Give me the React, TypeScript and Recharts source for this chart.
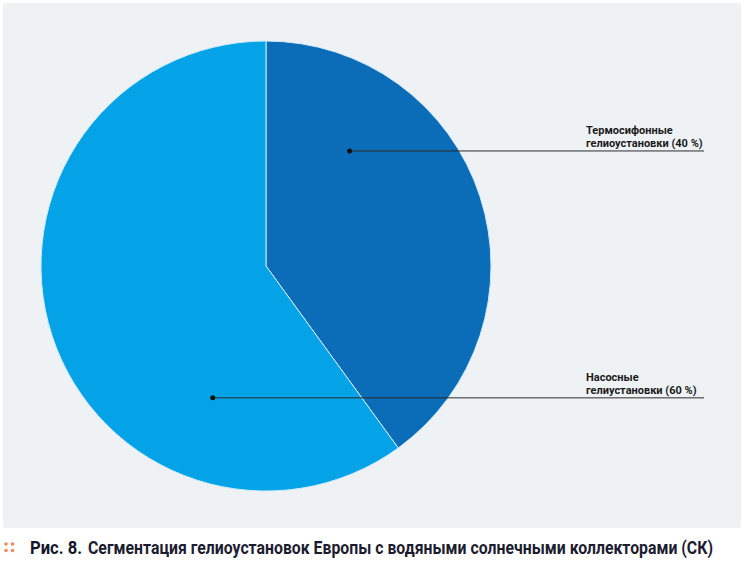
import { PieChart, Pie, Cell } from "recharts";

const segments = ["Термосифонные гелиоустановки", "Насосные гелиустановки"];
const shares = [40, 60];
const labelTop = ["Термосифонные", "Насосные"];
const labelBottom = ["гелиоустановки (40 %)", "гелиустановки (60 %)"];

const pieData = segments.map((name, i) => ({ name, value: shares[i] }));

const COLORS = ["#0b6db7", "#04a3e7"];
// where the leader dot sits inside each slice (degrees from +x, fraction of radius)
const ANCHOR_ANGLE = [54, -112];
const ANCHOR_R = 0.632;
const LINE_END_X = 704;
const TEXT_X = 586;

const RAD = Math.PI / 180;
// caption font is condensed in the original: draw smaller and stretch vertically
const CAP_STRETCH = 1.125;

const renderLabel = (props: any) => {
  const { cx, cy, outerRadius, index } = props;
  const a = ANCHOR_ANGLE[index] * RAD;
  const x = cx + outerRadius * ANCHOR_R * Math.cos(a);
  const y = cy - outerRadius * ANCHOR_R * Math.sin(a);
  return (
    <g key={`lbl-${index}`}>
      <line x1={x} y1={y} x2={LINE_END_X} y2={y} stroke="#2b2b2b" strokeWidth={1} />
      <circle cx={x} cy={y} r={2.5} fill="#111" />
      <text
        x={TEXT_X}
        y={y - 17}
        fontFamily="Roboto, 'DejaVu Sans', sans-serif"
        fontWeight={700}
        fontSize={11}
        fill="#1b1b1b"
      >
        {labelTop[index]}
      </text>
      <text
        x={TEXT_X}
        y={y - 4}
        fontFamily="Roboto, 'DejaVu Sans', sans-serif"
        fontWeight={700}
        fontSize={11}
        fill="#1b1b1b"
      >
        {labelBottom[index]}
      </text>
    </g>
  );
};

export default function App() {
  return (
    <div style={{ position: "absolute", left: 0, top: 0, width: 746, height: 565, background: "#fff" }}>
      {/* light panel behind the pie */}
      <div
        style={{
          position: "absolute",
          left: 3,
          top: 3,
          width: 738,
          height: 525,
          background: "#eef2f5",
          borderRadius: 3,
        }}
      />
      <div style={{ position: "absolute", left: 0, top: 0 }}>
        <PieChart width={746} height={530} margin={{ top: 0, right: 0, bottom: 0, left: 0 }}>
          <Pie
            data={pieData}
            dataKey="value"
            nameKey="name"
            cx={266}
            cy={266}
            outerRadius={225}
            startAngle={90}
            endAngle={-270}
            stroke="#cfeaf8"
            strokeWidth={1}
            label={renderLabel}
            labelLine={false}
            isAnimationActive={false}
          >
            {pieData.map((d, i) => (
              <Cell key={d.name} fill={COLORS[i]} />
            ))}
          </Pie>
        </PieChart>
      </div>
      {/* caption */}
      <svg width={746} height={34} style={{ position: "absolute", left: 0, top: 530 }}>
        <circle cx={6} cy={14} r={1.8} fill="#f08a5d" />
        <circle cx={12.5} cy={14} r={1.8} fill="#f08a5d" />
        <circle cx={6} cy={20.5} r={1.8} fill="#f08a5d" />
        <circle cx={12.5} cy={20.5} r={1.8} fill="#f08a5d" />
        <g transform={`scale(1, ${CAP_STRETCH})`}>
          <text
            x={30}
            y={24 / CAP_STRETCH}
            fontFamily="Roboto, sans-serif"
            fontWeight={700}
            fontSize={16}
            fill="#14142b"
            textLength={52}
            lengthAdjust="spacingAndGlyphs"
          >
            Рис. 8.
          </text>
          <text
            x={88}
            y={24 / CAP_STRETCH}
            fontFamily="Roboto, sans-serif"
            fontWeight={700}
            fontSize={16}
            fill="#1c1c30"
            textLength={625}
            lengthAdjust="spacingAndGlyphs"
          >
            Сегментация гелиоустановок Европы с водяными солнечными коллекторами (СК)
          </text>
        </g>
      </svg>
    </div>
  );
}
